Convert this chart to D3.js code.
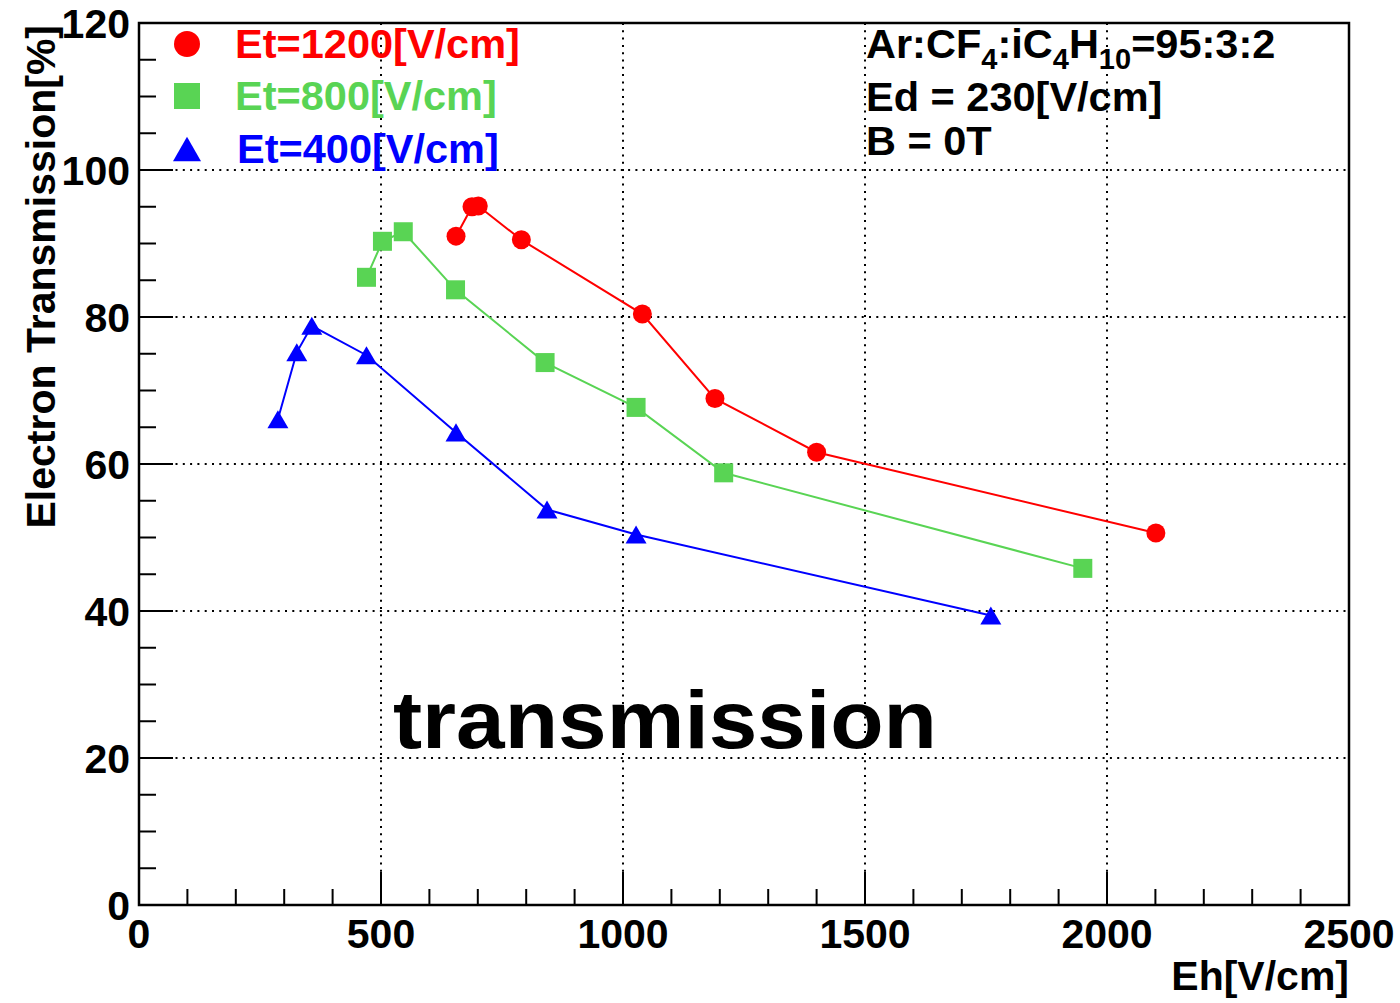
<!DOCTYPE html>
<html>
<head>
<meta charset="utf-8">
<script src="https://cdn.jsdelivr.net/npm/d3@7"></script>
<style>
  html, body { margin: 0; padding: 0; background: #fff; }
  svg { display: block; }
  text { font-family: "Liberation Sans", Arial, Helvetica, sans-serif; font-weight: bold; }
</style>
</head>
<body>
<svg id="chart" width="1400" height="1003"></svg>
<script>
// Eh [V/cm] and electron transmission [%] for each transfer field Et
const ehEt1200 = [655, 688, 701, 790, 1040, 1190, 1400, 2101];
const trEt1200 = [91.0, 95.0, 95.1, 90.5, 80.4, 68.9, 61.6, 50.6];

const ehEt800 = [470, 503, 546, 654, 839, 1027, 1208, 1950];
const trEt800 = [85.4, 90.3, 91.6, 83.7, 73.8, 67.7, 58.8, 45.8];

const ehEt400 = [287, 326, 357, 470, 655, 843, 1027, 1760];
const trEt400 = [66.1, 75.2, 78.8, 74.8, 64.3, 53.8, 50.4, 39.4];

const seriesNames = ["Et=1200[V/cm]", "Et=800[V/cm]", "Et=400[V/cm]"];
const xTickLabels = ["0", "500", "1000", "1500", "2000", "2500"];
const yTickLabels = ["0", "20", "40", "60", "80", "100", "120"];

const svg = d3.select("#chart");

const plotL = 139, plotR = 1349, plotT = 23, plotB = 905;
const x = d3.scaleLinear().domain([0, 2500]).range([plotL, plotR]);
const y = d3.scaleLinear().domain([0, 120]).range([plotB, plotT]);

const series = [
  { name: seriesNames[0], xs: ehEt1200, ys: trEt1200, color: "#ff0000", shape: "circle" },
  { name: seriesNames[1], xs: ehEt800,  ys: trEt800,  color: "#59d454", shape: "square" },
  { name: seriesNames[2], xs: ehEt400,  ys: trEt400,  color: "#0000ff", shape: "triangle" }
];

// dotted grid
const gridX = xTickLabels.map(Number).filter(v => v > 0 && v < 2500);
const gridY = yTickLabels.map(Number).filter(v => v > 0 && v < 120);
const grid = svg.append("g").attr("stroke", "#000").attr("stroke-width", 2)
  .attr("stroke-dasharray", "2 5.3");
grid.selectAll(".gx").data(gridX).join("line")
  .attr("x1", d => x(d)).attr("x2", d => x(d)).attr("y1", plotT).attr("y2", plotB);
grid.selectAll(".gy").data(gridY).join("line")
  .attr("y1", d => y(d)).attr("y2", d => y(d)).attr("x1", plotL).attr("x2", plotR);

// frame
svg.append("rect").attr("x", plotL).attr("y", plotT)
  .attr("width", plotR - plotL).attr("height", plotB - plotT)
  .attr("fill", "none").attr("stroke", "#000").attr("stroke-width", 2.5);

// ticks
const ticks = svg.append("g").attr("stroke", "#000").attr("stroke-width", 2);
const xMinor = d3.range(0, 2501, 100);
ticks.selectAll(".xt").data(xMinor).join("line")
  .attr("x1", d => x(d)).attr("x2", d => x(d))
  .attr("y1", plotB).attr("y2", d => plotB - (d % 500 === 0 ? 33 : 16));
const yMinor = d3.range(0, 121, 5);
ticks.selectAll(".yt").data(yMinor).join("line")
  .attr("y1", d => y(d)).attr("y2", d => y(d))
  .attr("x1", plotL).attr("x2", d => plotL + (d % 20 === 0 ? 34 : 17));

// tick labels
svg.append("g").selectAll("text").data(xTickLabels).join("text")
  .attr("x", d => x(+d)).attr("y", 948)
  .attr("text-anchor", "middle").attr("font-size", 41).text(d => d);
svg.append("g").selectAll("text").data(yTickLabels).join("text")
  .attr("x", 130).attr("y", d => y(+d) + 15)
  .attr("text-anchor", "end").attr("font-size", 41).text(d => d);

// axis titles
svg.append("text").attr("x", plotR).attr("y", 990)
  .attr("text-anchor", "end").attr("font-size", 41).text("Eh[V/cm]");
svg.append("text").attr("transform", "translate(55,25) rotate(-90)")
  .attr("text-anchor", "end").attr("font-size", 41).text("Electron Transmission[%]");

// big label inside the plot
svg.append("text").attr("x", 393).attr("y", 748)
  .attr("font-family", "'Comic Sans MS', 'Comic Neue', 'DejaVu Sans', sans-serif")
  .attr("font-size", 82).attr("textLength", 544).attr("lengthAdjust", "spacingAndGlyphs")
  .text("transmission");

// markers
function drawMarker(g, shape, cx, cy, s, color) {
  if (shape === "circle") {
    g.append("circle").attr("cx", cx).attr("cy", cy).attr("r", s / 2).attr("fill", color);
  } else if (shape === "square") {
    g.append("rect").attr("x", cx - s / 2).attr("y", cy - s / 2)
      .attr("width", s).attr("height", s).attr("fill", color);
  } else {
    const h = s * 0.95;
    g.append("path")
      .attr("d", `M${cx},${cy - h / 2}L${cx + s / 2 + 1},${cy + h / 2}L${cx - s / 2 - 1},${cy + h / 2}Z`)
      .attr("fill", color);
  }
}

const line = d3.line().x(d => x(d[0])).y(d => y(d[1]));
series.forEach(s => {
  const pts = s.xs.map((v, i) => [v, s.ys[i]]);
  const g = svg.append("g");
  g.append("path").datum(pts).attr("d", line)
    .attr("fill", "none").attr("stroke", s.color).attr("stroke-width", 2);
  pts.forEach(p => drawMarker(g, s.shape, x(p[0]), y(p[1]), 19, s.color));
});

// legend
const legendY = [44, 96, 149];
const legendBase = [58, 110, 163];
series.forEach((s, i) => {
  const g = svg.append("g");
  drawMarker(g, s.shape, 187, legendY[i], 26, s.color);
  g.append("text").attr("x", i === 2 ? 237 : 235).attr("y", legendBase[i])
    .attr("font-size", 41.5).attr("fill", s.color).text(s.name);
});

// gas and field conditions
const info = svg.append("g").attr("font-size", 41.5).attr("fill", "#000");
const gas = info.append("text").attr("x", 866).attr("y", 58);
gas.append("tspan").text("Ar:CF");
gas.append("tspan").attr("font-size", 29).attr("dy", 11).text("4");
gas.append("tspan").attr("dy", -11).text(":iC");
gas.append("tspan").attr("font-size", 29).attr("dy", 11).text("4");
gas.append("tspan").attr("dy", -11).text("H");
gas.append("tspan").attr("font-size", 29).attr("dy", 11).text("10");
gas.append("tspan").attr("dy", -11).text("=95:3:2");
info.append("text").attr("x", 866).attr("y", 111).text("Ed = 230[V/cm]");
info.append("text").attr("x", 866).attr("y", 155).text("B = 0T");
</script>
</body>
</html>
